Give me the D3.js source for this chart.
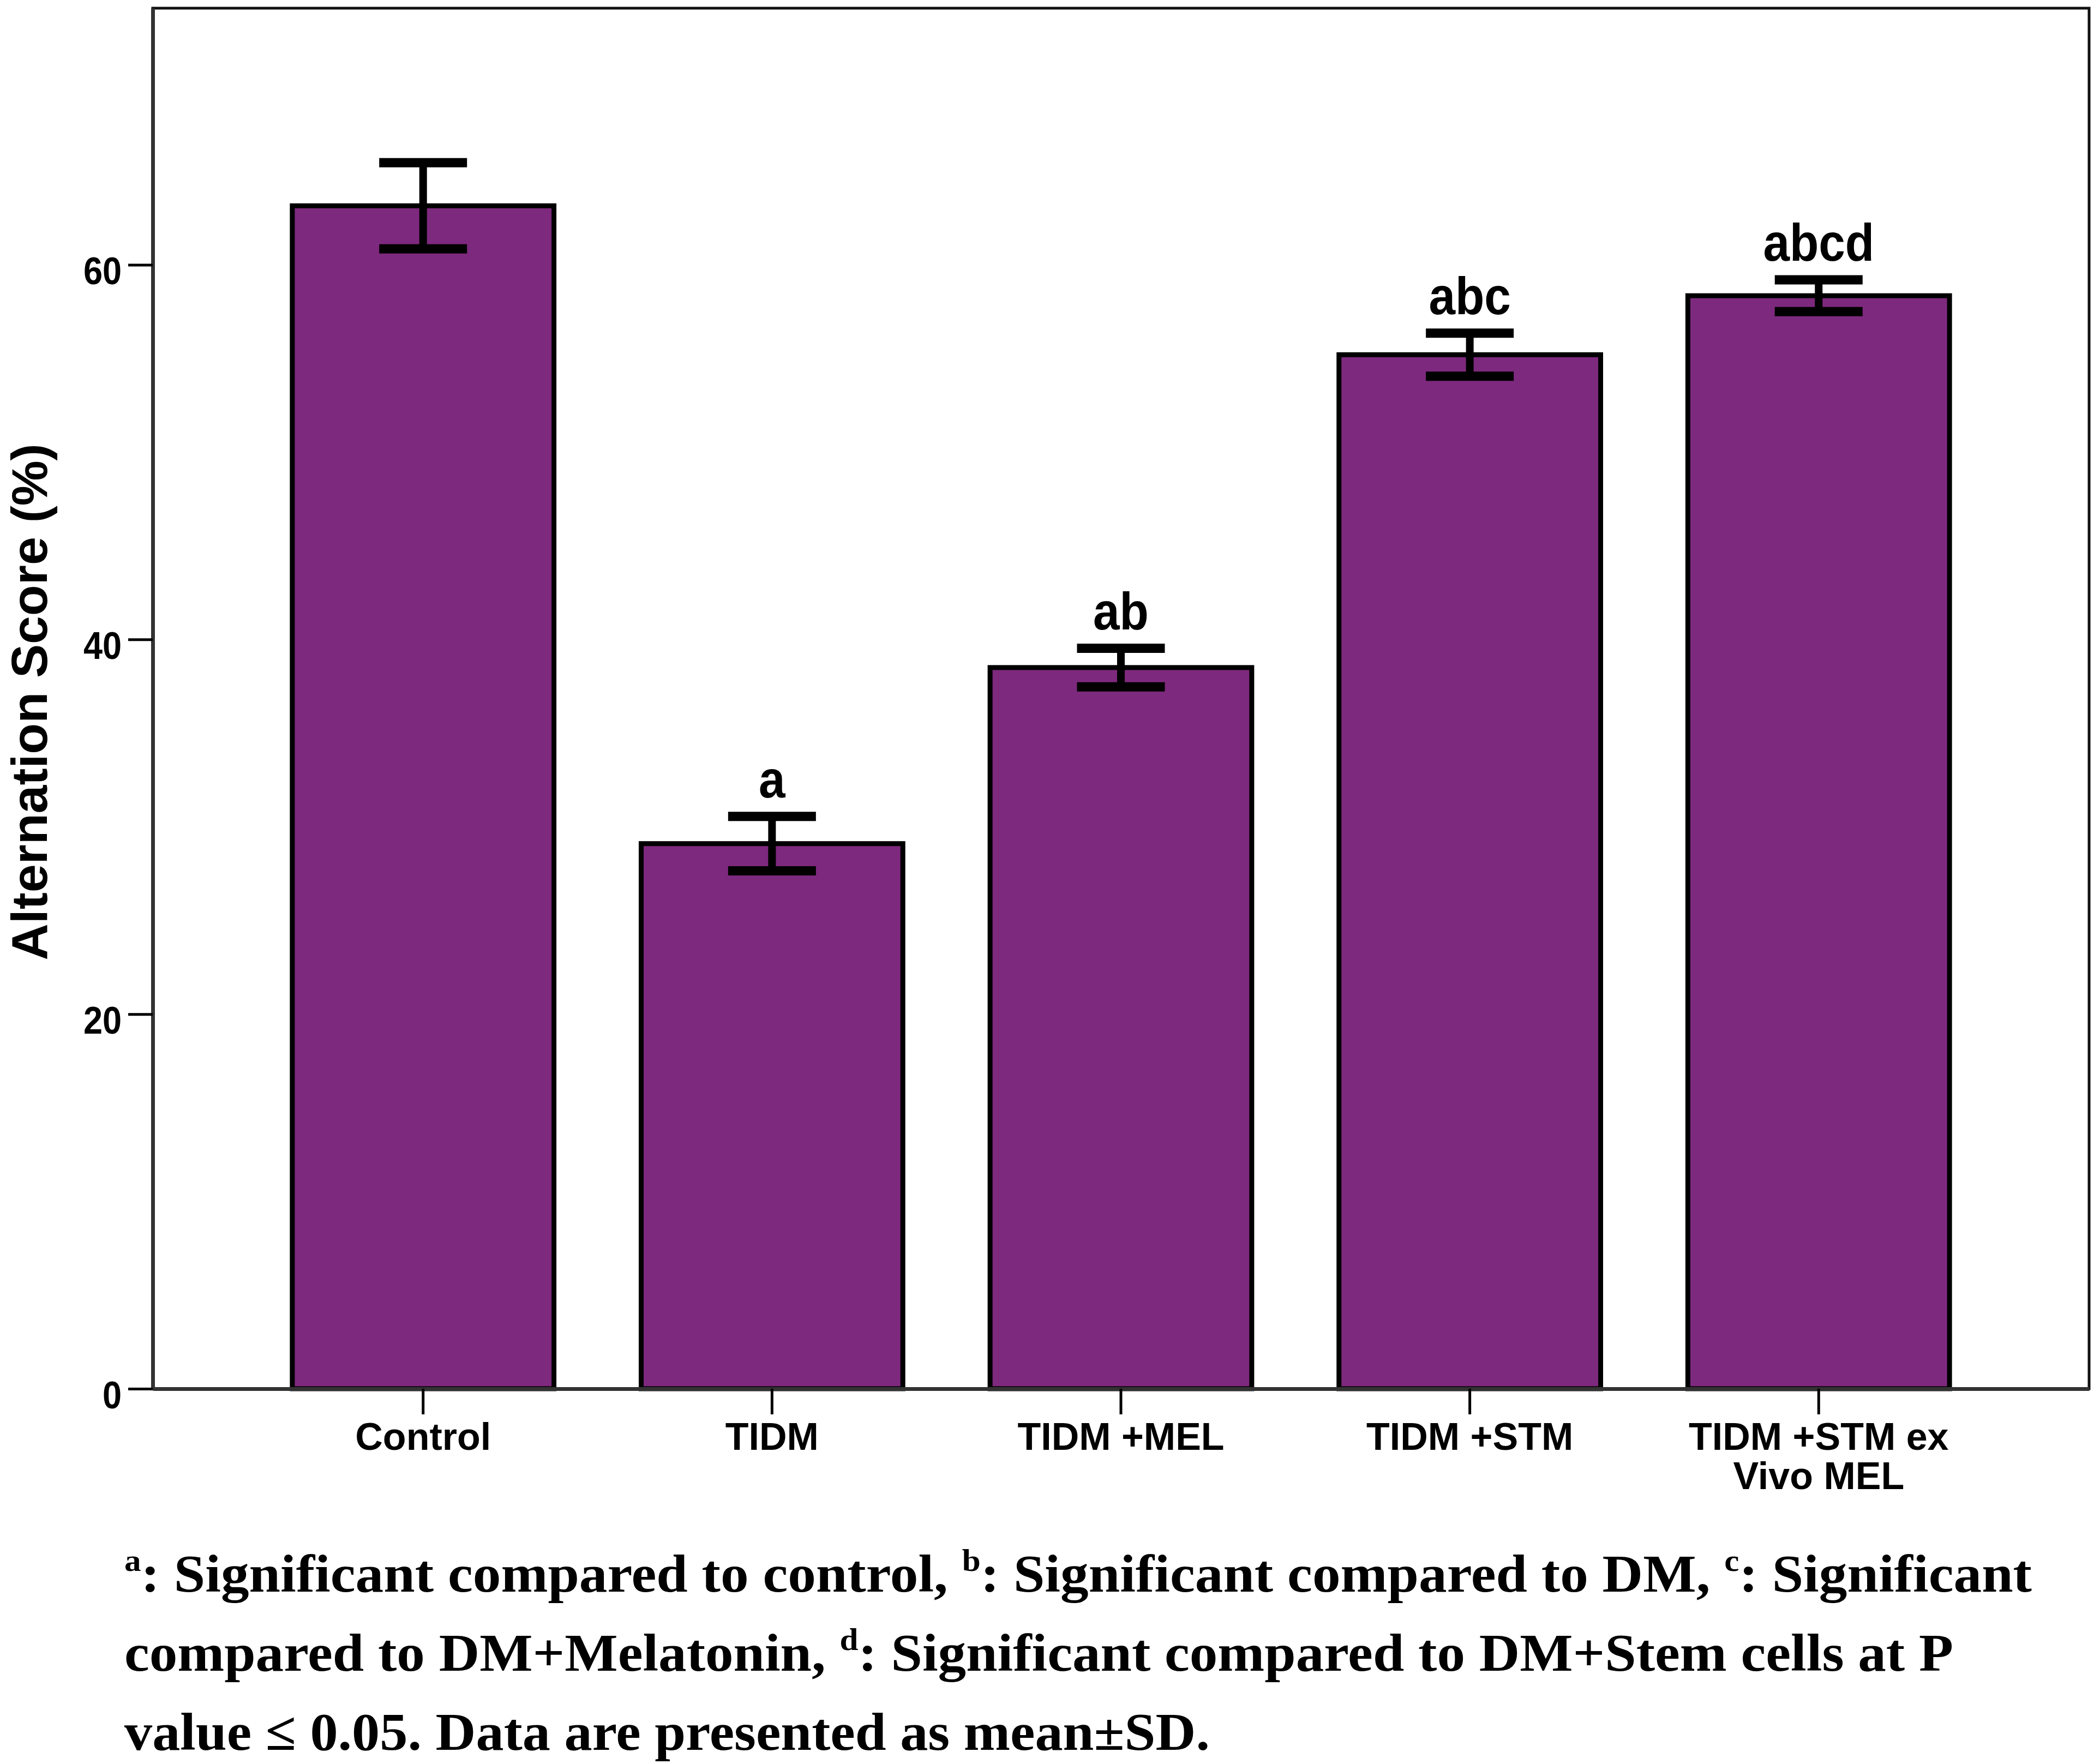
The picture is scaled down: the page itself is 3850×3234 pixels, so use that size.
<!DOCTYPE html>
<html>
<head>
<meta charset="utf-8">
<script src="https://cdn.jsdelivr.net/npm/d3@7/dist/d3.min.js"></script>
<style>
  html, body { margin: 0; padding: 0; background: #ffffff; }
  svg { display: block; }
</style>
</head>
<body>
<script>
// ---------------- DATA ----------------
const categories = ["Control", "TIDM", "TIDM +MEL", "TIDM +STM", "TIDM +STM ex Vivo MEL"];
const categoryLines = [["Control"], ["TIDM"], ["TIDM +MEL"], ["TIDM +STM"], ["TIDM +STM ex", "Vivo MEL"]];
const means = [63.15, 29.1, 38.5, 55.2, 58.35];
const sds = [2.3, 1.45, 1.03, 1.15, 0.85];
const sigLabels = ["", "a", "ab", "abc", "abcd"];
const yTicks = [0, 20, 40, 60];
const yTitle = "Alternation Score (%)";
const captionLines = [
  [["a", true], [": Significant compared to control, ", false], ["b", true], [": Significant compared to DM, ", false], ["c", true], [": Significant", false]],
  [["compared to DM+Melatonin, ", false], ["d", true], [": Significant compared to DM+Stem cells at P", false]],
  [["value \u2264 0.05. Data are presented as mean\u00b1SD.", false]]
];

// ---------------- LAYOUT ----------------
const W = 3850, H = 3234;
const plotLeft = 280, plotRight = 3830, plotTop = 15, plotBottom = 2546;
const barFill = "#7d297d";
const sansBold = "'Liberation Sans', Arial, sans-serif";
const serif = "'Liberation Serif', 'Times New Roman', serif";

const svg = d3.select("body").append("svg")
  .attr("width", W).attr("height", H)
  .attr("viewBox", `0 0 ${W} ${H}`);

svg.append("rect").attr("width", W).attr("height", H).attr("fill", "#fff");

const x = d3.scaleBand().domain(categories)
  .range([plotLeft, plotRight]).paddingInner(0.25).paddingOuter(0.4);
const y = d3.scaleLinear().domain([0, 73.7]).range([plotBottom, plotTop]);

const data = categories.map((c, i) => ({ c, m: means[i], sd: sds[i], lab: sigLabels[i], lines: categoryLines[i] }));

function condense(sel, factor) {
  sel.each(function () {
    const len = this.getComputedTextLength();
    d3.select(this).attr("textLength", len * factor).attr("lengthAdjust", "spacingAndGlyphs");
  });
}

// frame
svg.append("rect")
  .attr("x", plotLeft).attr("y", plotTop)
  .attr("width", plotRight - plotLeft).attr("height", plotBottom - plotTop)
  .attr("fill", "none").attr("stroke", "#111").attr("stroke-width", 5);

// bars
svg.append("g").selectAll("rect").data(data).join("rect")
  .attr("x", d => x(d.c))
  .attr("y", d => y(d.m))
  .attr("width", x.bandwidth())
  .attr("height", d => y(0) - y(d.m))
  .attr("fill", barFill)
  .attr("stroke", "#000")
  .attr("stroke-width", 9);

// y axis
const yAxis = svg.append("g")
  .attr("transform", `translate(${plotLeft},0)`)
  .call(d3.axisLeft(y).tickValues(yTicks).tickSize(45).tickPadding(12).tickSizeOuter(0).tickFormat(d3.format("d")));
yAxis.select(".domain").attr("stroke", "#333").attr("stroke-width", 7);
yAxis.selectAll(".tick line").attr("stroke", "#000").attr("stroke-width", 5);
yAxis.selectAll(".tick text")
  .attr("fill", "#000")
  .attr("font-family", sansBold).attr("font-weight", "bold").attr("font-size", 70)
  .attr("dy", "0.5em");
condense(yAxis.selectAll(".tick text"), 0.9);

// x axis
const xAxis = svg.append("g")
  .attr("transform", `translate(0,${plotBottom})`)
  .call(d3.axisBottom(x).tickSize(47).tickSizeOuter(0));
xAxis.select(".domain").attr("stroke", "#333").attr("stroke-width", 7);
xAxis.selectAll(".tick line").attr("stroke", "#000").attr("stroke-width", 5);
xAxis.selectAll(".tick text").each(function (d, i) {
  const t = d3.select(this);
  t.text(null).attr("dy", null).attr("y", null)
    .attr("fill", "#000")
    .attr("font-family", sansBold).attr("font-weight", "bold").attr("font-size", 70);
  categoryLines[i].forEach((ln, j) => {
    t.append("tspan").attr("x", 0).attr("y", 112 + j * 72).text(ln);
  });
});

// error bars
const capW = 161, capT = 17, stemW = 14;
const eb = svg.append("g").selectAll("g").data(data).join("g")
  .attr("transform", d => `translate(${x(d.c) + x.bandwidth() / 2},0)`);
eb.append("line")
  .attr("x1", 0).attr("x2", 0)
  .attr("y1", d => y(d.m + d.sd)).attr("y2", d => y(d.m - d.sd))
  .attr("stroke", "#000").attr("stroke-width", stemW);
eb.append("line")
  .attr("x1", -capW / 2).attr("x2", capW / 2)
  .attr("y1", d => y(d.m + d.sd)).attr("y2", d => y(d.m + d.sd))
  .attr("stroke", "#000").attr("stroke-width", capT);
eb.append("line")
  .attr("x1", -capW / 2).attr("x2", capW / 2)
  .attr("y1", d => y(d.m - d.sd)).attr("y2", d => y(d.m - d.sd))
  .attr("stroke", "#000").attr("stroke-width", capT);

// significance labels
const sig = svg.append("g").selectAll("text").data(data.filter(d => d.lab)).join("text")
  .attr("x", d => x(d.c) + x.bandwidth() / 2)
  .attr("y", d => y(d.m + d.sd) - capT / 2 - 26)
  .attr("text-anchor", "middle")
  .attr("font-family", sansBold).attr("font-weight", "bold").attr("font-size", 97)
  .attr("fill", "#000")
  .text(d => d.lab);
condense(sig, 0.9);

// y title
svg.append("text")
  .attr("transform", "translate(86,1287) rotate(-90)")
  .attr("text-anchor", "middle")
  .attr("font-family", sansBold).attr("font-weight", "bold").attr("font-size", 92)
  .attr("fill", "#000")
  .attr("textLength", 947).attr("lengthAdjust", "spacingAndGlyphs")
  .text(yTitle);

// caption
const capBaselines = [2918, 3063, 3208];
const capWidths = [3497, 3353, 1990];
captionLines.forEach((segs, li) => {
  const t = svg.append("text")
    .attr("x", 228).attr("y", capBaselines[li])
    .attr("font-family", serif).attr("font-weight", "bold").attr("font-size", 98)
    .attr("fill", "#000");
  let raised = false;
  segs.forEach(([txt, sup]) => {
    const ts = t.append("tspan").text(txt);
    if (sup && !raised) { ts.attr("dy", -38).attr("font-size", 58); raised = true; }
    else if (sup) { ts.attr("font-size", 58); }
    else if (!sup && raised) { ts.attr("dy", 38); raised = false; }
  });
  t.attr("textLength", capWidths[li]).attr("lengthAdjust", "spacingAndGlyphs");
});
</script>
</body>
</html>
